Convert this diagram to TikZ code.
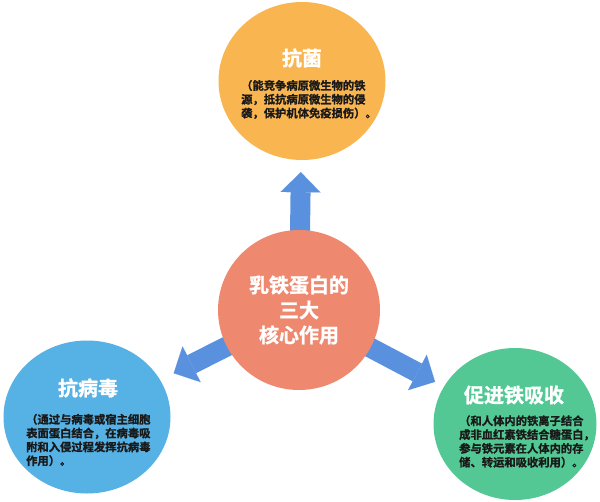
\documentclass[tikz,border=0pt]{standalone}
\usepackage{fontspec}
\setmainfont{Noto Sans CJK SC}[BoldFont={Noto Sans CJK SC Bold},BoldFeatures={FakeBold=1.2}]
\usetikzlibrary{shapes.geometric,arrows.meta,backgrounds}
\definecolor{coresalmon}{RGB}{238,137,111}
\definecolor{antibamber}{RGB}{249,182,80}
\definecolor{antivblue}{RGB}{86,177,228}
\definecolor{irongreen}{RGB}{84,200,148}
\definecolor{arrowblue}{RGB}{90,145,222}
\definecolor{bodyink}{RGB}{25,25,25}
\tikzset{
  ring/.style={ellipse, draw=none, inner sep=0pt},
  headtxt/.style={text=white, font=\bfseries\fontsize{20pt}{25pt}\selectfont, align=center, inner sep=0pt},
  bodytxt/.style={text=bodyink, font=\bfseries\fontsize{11.3pt}{13.8pt}\selectfont, align=left, anchor=west, inner sep=0pt},
  fatarrow/.style={draw=arrowblue, line width=20pt, -{Triangle[width=40pt,length=20pt,line width=0.01pt]}, shorten <=-6pt}
}
\begin{document}
\begin{tikzpicture}[x=1pt,y=-1pt]
	\useasboundingbox (0,0) rectangle (600,501);
	% Core circle
	\node[ring, fill=coresalmon, minimum width=162pt, minimum height=160pt, headtxt] (core) at (299,310) {乳铁蛋白的\\三大\\核心作用};
	
	% Top - antibacterial
	\node[ring, fill=antibamber, minimum width=167pt, minimum height=158pt] (antib) at (302,81) {};
	\node[headtxt] (antibhead) at (302,58) {抗菌};
	\node[bodytxt] (antibbody) at (241,99.5) {（能竞争病原微生物的铁\\源，抵抗病原微生物的侵\\袭，保护机体免疫损伤）。};
	
	% Left - antiviral
	\node[ring, fill=antivblue, minimum width=167pt, minimum height=153pt] (antiv) at (87,417) {};
	\node[headtxt] (antivhead) at (88,388) {抗病毒};
	\node[bodytxt] (antivbody) at (26,440) {（通过与病毒或宿主细胞\\表面蛋白结合，在病毒吸\\附和入侵过程发挥抗病毒\\作用）。};
	
	% Right - iron absorption
	\node[ring, fill=irongreen, minimum width=163pt, minimum height=152pt] (iron) at (515,424) {};
	\node[headtxt] (ironhead) at (514,395) {促进铁吸收};
	\node[bodytxt] (ironbody) at (459,441.5) {（和人体内的铁离子结合\\成非血红素铁结合糖蛋白，\\参与铁元素在人体内的存\\储、转运和吸收利用）。};
	
	% Block arrows behind the core
	\begin{scope}[on background layer]
		\draw[fatarrow, shorten >=12pt] (core) -- (antib);
		\draw[fatarrow, shorten >=15pt] (core) -- (antiv);
		\draw[fatarrow, shorten >=10pt] (core) -- (iron);
	\end{scope}
\end{tikzpicture}
\end{document}
